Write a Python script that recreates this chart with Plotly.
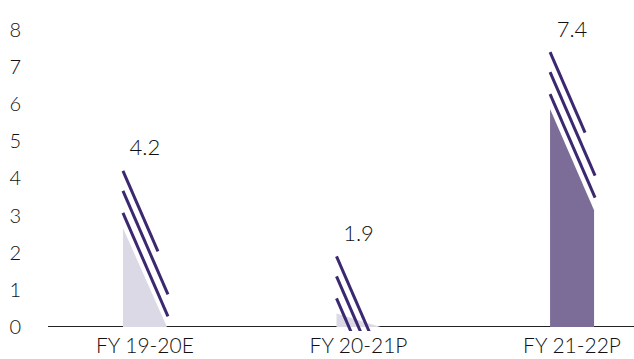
import plotly.graph_objects as go

# Chart data
categories = ["FY 19-20E", "FY 20-21P", "FY 21-22P"]
values = [4.2, 1.9, 7.4]
value_labels = ["4.2", "1.9", "7.4"]
y_ticks = [0, 1, 2, 3, 4, 5, 6, 7, 8]

# Styling
fill_colors = ["#dcd9e6", "#dcd9e6", "#7c6c98"]
stripe_color = "#3b2870"
text_color = "#111111"
font_family = "Lato, 'Open Sans', sans-serif"

W, H = 634, 359
margin = dict(l=48, r=0, t=8, b=28)
x_range = [-0.454, 2.29]
y_range = [-0.108, 8.586]

plot_w = W - margin["l"] - margin["r"]
plot_h = H - margin["t"] - margin["b"]
px_x = plot_w / (x_range[1] - x_range[0])   # pixels per category
px_y = plot_h / (y_range[1] - y_range[0])   # pixels per unit


def ux(px):
    return px / px_x


def uy(px):
    return px / px_y


# Glyph geometry (pixels): bar width, stripe slope and offsets below the top
bar_w = 44
slope = 2.3
stripes = [(0, 35), (20, 45), (42, 45)]   # (offset below top, horizontal length)
fill_gap = 57

fig = go.Figure()

for i, v in enumerate(values):
    x0 = i - ux(bar_w / 2)
    x1 = i + ux(bar_w / 2)
    # solid lower body with a slanted top
    top_l = max(v - uy(fill_gap), 0)
    top_r = max(v - uy(fill_gap + slope * bar_w), 0)
    if top_l > 0:
        fig.add_trace(go.Scatter(
            x=[x0, x0, x1, x1, x0], y=[0, top_l, top_r, 0, 0],
            mode="lines", fill="toself", fillcolor=fill_colors[i],
            line=dict(width=0), hoverinfo="skip", showlegend=False))
    # slanted stripes above the body
    for off, length in stripes:
        ya = v - uy(off)
        yb = ya - uy(slope * length)
        fig.add_trace(go.Scatter(
            x=[x0, x0 + ux(length)], y=[ya, yb], mode="lines",
            line=dict(color=stripe_color, width=3), hoverinfo="skip",
            showlegend=False))

# value labels above each glyph
fig.add_trace(go.Scatter(
    x=list(range(len(values))), y=[v + uy(21) for v in values],
    mode="text", text=value_labels, textposition="middle center",
    textfont=dict(family=font_family, size=22, color=text_color, weight=300),
    hoverinfo="skip", showlegend=False, cliponaxis=False))

fig.update_layout(
    width=W, height=H, margin=margin,
    paper_bgcolor="white", plot_bgcolor="white",
    font=dict(family=font_family, size=20, color=text_color, weight=300),
    xaxis=dict(range=x_range, tickmode="array", tickvals=list(range(len(categories))),
               ticktext=categories, showgrid=False, zeroline=False, showline=False,
               ticks="", tickfont=dict(size=21, weight=300),
               automargin=False, fixedrange=True),
    yaxis=dict(range=y_range, tickmode="array", tickvals=y_ticks, showgrid=False,
               zeroline=True, zerolinecolor="#222222", zerolinewidth=1,
               showline=False, ticks="outside", ticklen=22,
               tickcolor="rgba(0,0,0,0)", tickfont=dict(size=20, weight=300),
               automargin=False, fixedrange=True),
)

fig.write_html("out.html")
